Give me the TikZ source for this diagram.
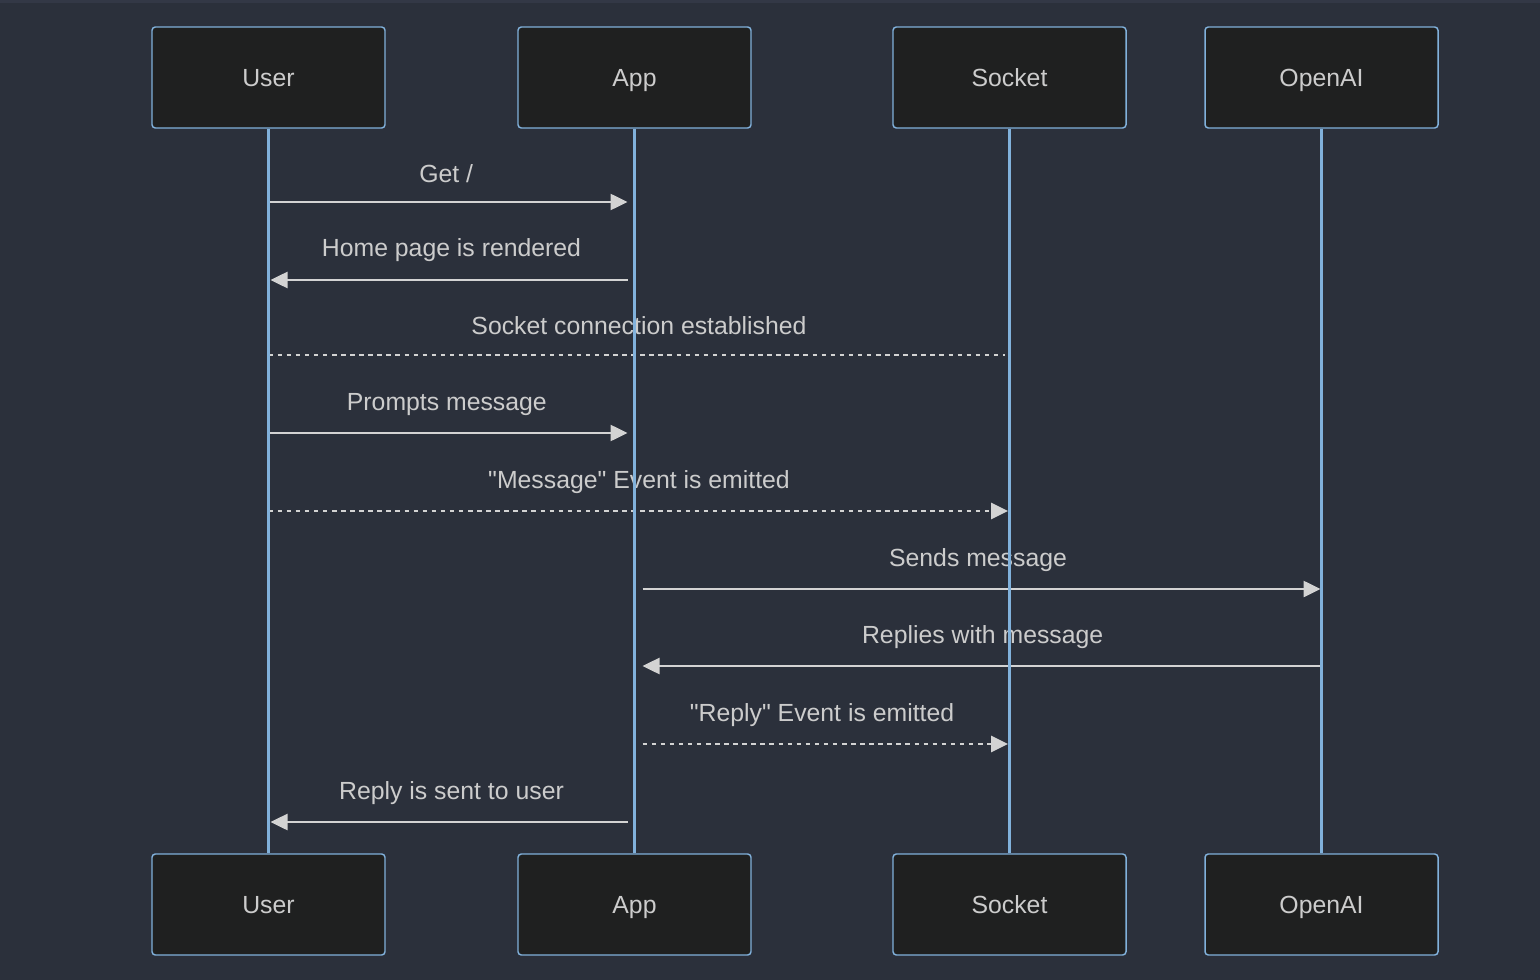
\documentclass[tikz,border=0pt]{standalone}
\usepackage{fontspec}
\setmainfont{Liberation Sans}
\usetikzlibrary{arrows.meta}

\definecolor{bgcol}{HTML}{2B303B}
\definecolor{topcol}{HTML}{333846}
\definecolor{boxfill}{HTML}{1F2020}
\definecolor{lifecol}{HTML}{81B1DB}
\definecolor{msgcol}{HTML}{D3D3D3}
\definecolor{txtcol}{HTML}{CCCCCC}

\begin{document}
\begin{tikzpicture}[x = 0.75pt, y = -0.75pt, >={Triangle[length=12.75pt, width=12pt]},
	actor/.style = {draw = lifecol, line width = 1.1pt, fill = boxfill, rounded corners = 2.5pt,
		minimum width = 174.75pt, minimum height = 75.75pt, text = txtcol, text height = 13.2pt, text depth = 0pt,
		font = \fontsize{18.6pt}{22pt}\selectfont},
	life/.style = {draw = lifecol, line width = 2pt},
	msg/.style = {draw = msgcol, line width = 1.9pt},
	reply/.style = {msg, line width = 2.1pt, dash pattern = on 3.4pt off 3.4pt},
	lbl/.style = {text = txtcol, anchor = base, yshift = 17.25pt, font = \fontsize{18.6pt}{22pt}\selectfont}]

\useasboundingbox (0,0) rectangle (1540,980);
\fill [bgcol] (0,0) rectangle (1540,980);
\fill [topcol] (0,0) rectangle (1540,3);

\node [actor] (user top) at (268.5,77.5) {User};
\node [actor] (app top) at (634.5,77.5) {App};
\node [actor] (socket top) at (1009.5,77.5) {Socket};
\node [actor] (openai top) at (1321.5,77.5) {OpenAI};

\node [actor] (user bottom) at (268.5,904.5) {User};
\node [actor] (app bottom) at (634.5,904.5) {App};
\node [actor] (socket bottom) at (1009.5,904.5) {Socket};
\node [actor] (openai bottom) at (1321.5,904.5) {OpenAI};

\draw [msg, ->, shorten > = 5.25pt] (user top |- 0,202) -- node [lbl, xshift = -4pt, yshift = -3pt] {Get /} (app top |- 0,202);
\draw [msg, ->, shorten < = 5.25pt, shorten > = 1.5pt] (app top |- 0,280) -- node [lbl] {Home page is rendered} (user top |- 0,280);
\draw [reply, shorten > = 3.4pt] (user top |- 0,355) -- node [lbl, yshift = -2pt] {Socket connection established} (socket top |- 0,355);
\draw [msg, ->, shorten > = 5.25pt] (user top |- 0,433) -- node [lbl, xshift = -3.5pt] {Prompts message} (app top |- 0,433);
\draw [reply, ->, shorten > = 1.1pt] (user top |- 0,511) -- node [lbl] {\textquotedbl Message\textquotedbl{} Event is emitted} (socket top |- 0,511);
\draw [msg, ->, shorten < = 6pt, shorten > = 0.75pt] (app top |- 0,589) -- node [lbl] {Sends message} (openai top |- 0,589);
\draw [msg, ->, shorten > = 6pt] (openai top |- 0,666) -- node [lbl, xshift = 3.5pt] {Replies with message} (app top |- 0,666);
\draw [reply, ->, shorten < = 6pt, shorten > = 1.1pt] (app top |- 0,744) -- node [lbl] {\textquotedbl Reply\textquotedbl{} Event is emitted} (socket top |- 0,744);
\draw [msg, ->, shorten < = 5.25pt, shorten > = 1.5pt] (app top |- 0,822) -- node [lbl] {Reply is sent to user} (user top |- 0,822);

% lifelines on top, as in the picture
\draw [life] (user top) -- (user bottom);
\draw [life] (app top) -- (app bottom);
\draw [life] (socket top) -- (socket bottom);
\draw [life] (openai top) -- (openai bottom);

\end{tikzpicture}
\end{document}
